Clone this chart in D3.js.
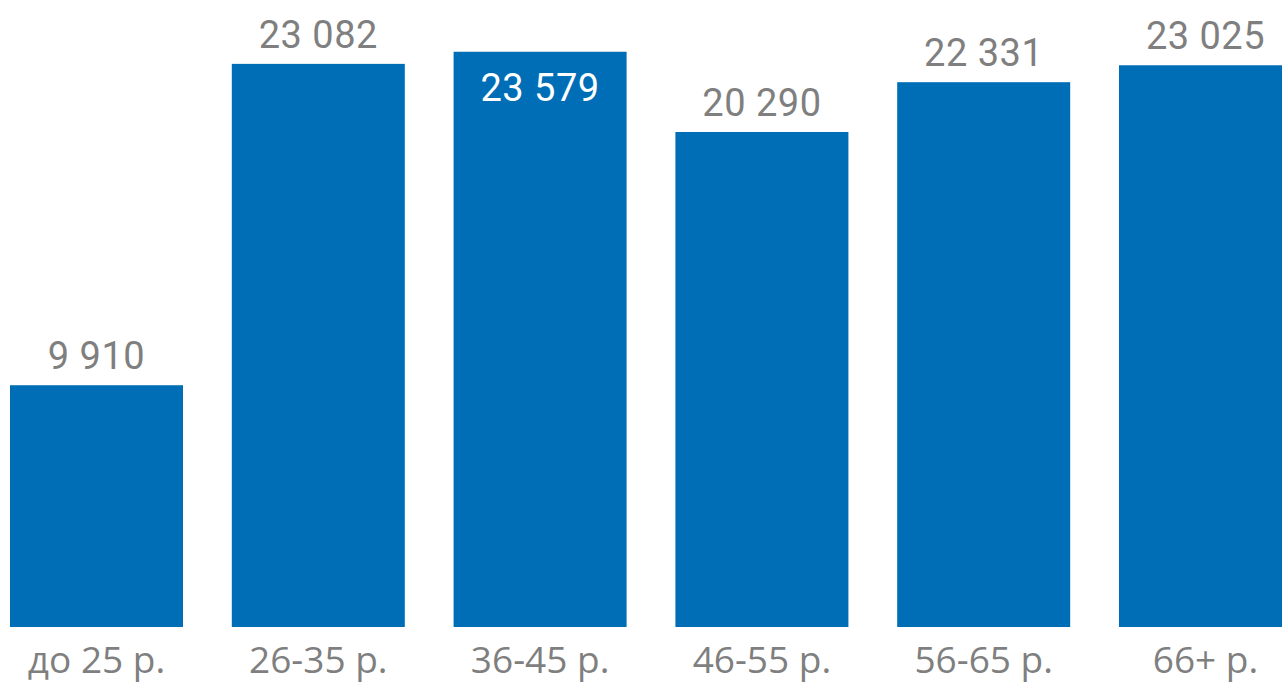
<!DOCTYPE html>
<html>
<head>
<meta charset="utf-8">
<script src="https://cdn.jsdelivr.net/npm/d3@7"></script>
<style>
  html, body { margin: 0; padding: 0; background: #fff; overflow: hidden; }
</style>
</head>
<body>
<svg id="chart" width="1282" height="682"></svg>
<script>
const categories = ["до 25 р.", "26-35 р.", "36-45 р.", "46-55 р.", "56-65 р.", "66+ р."];
const values = [9910, 23082, 23579, 20290, 22331, 23025];
const valueLabels = ["9 910", "23 082", "23 579", "20 290", "22 331", "23 025"];
const insideLabel = [false, false, true, false, false, false];

const svg = d3.select("#chart");
const baseY = 627;

const x = d3.scaleBand().domain(categories).range([10, 1292]).paddingInner(0.22).paddingOuter(0);
const y = d3.scaleLinear().domain([0, 25700]).range([baseY, 0]);

const data = categories.map((c, i) => ({ c, v: values[i], label: valueLabels[i], inside: insideLabel[i] }));

svg.append("g").selectAll("rect").data(data).join("rect")
  .attr("x", d => x(d.c))
  .attr("y", d => y(d.v))
  .attr("width", x.bandwidth())
  .attr("height", d => y(0) - y(d.v))
  .attr("fill", "#006EB6");

svg.append("g").selectAll("text").data(data).join("text")
  .attr("x", d => x(d.c) + x.bandwidth() / 2)
  .attr("y", d => d.inside ? y(d.v) + 49 : y(d.v) - 16)
  .attr("text-anchor", "middle")
  .attr("font-family", "Roboto, sans-serif")
  .attr("font-size", 38)
  .attr("letter-spacing", "0.5px")
  .attr("fill", d => d.inside ? "#ffffff" : "#7f7f7f")
  .text(d => d.label);

const xAxis = d3.axisBottom(x).tickSize(0).tickPadding(0);
const gx = svg.append("g").attr("transform", `translate(0,${baseY})`).call(xAxis);
gx.select(".domain").remove();
gx.selectAll("text")
  .attr("dy", null)
  .attr("y", 46)
  .attr("font-family", "'Open Sans', sans-serif")
  .attr("font-size", 37)
  .attr("fill", "#7f7f7f");
</script>
</body>
</html>
